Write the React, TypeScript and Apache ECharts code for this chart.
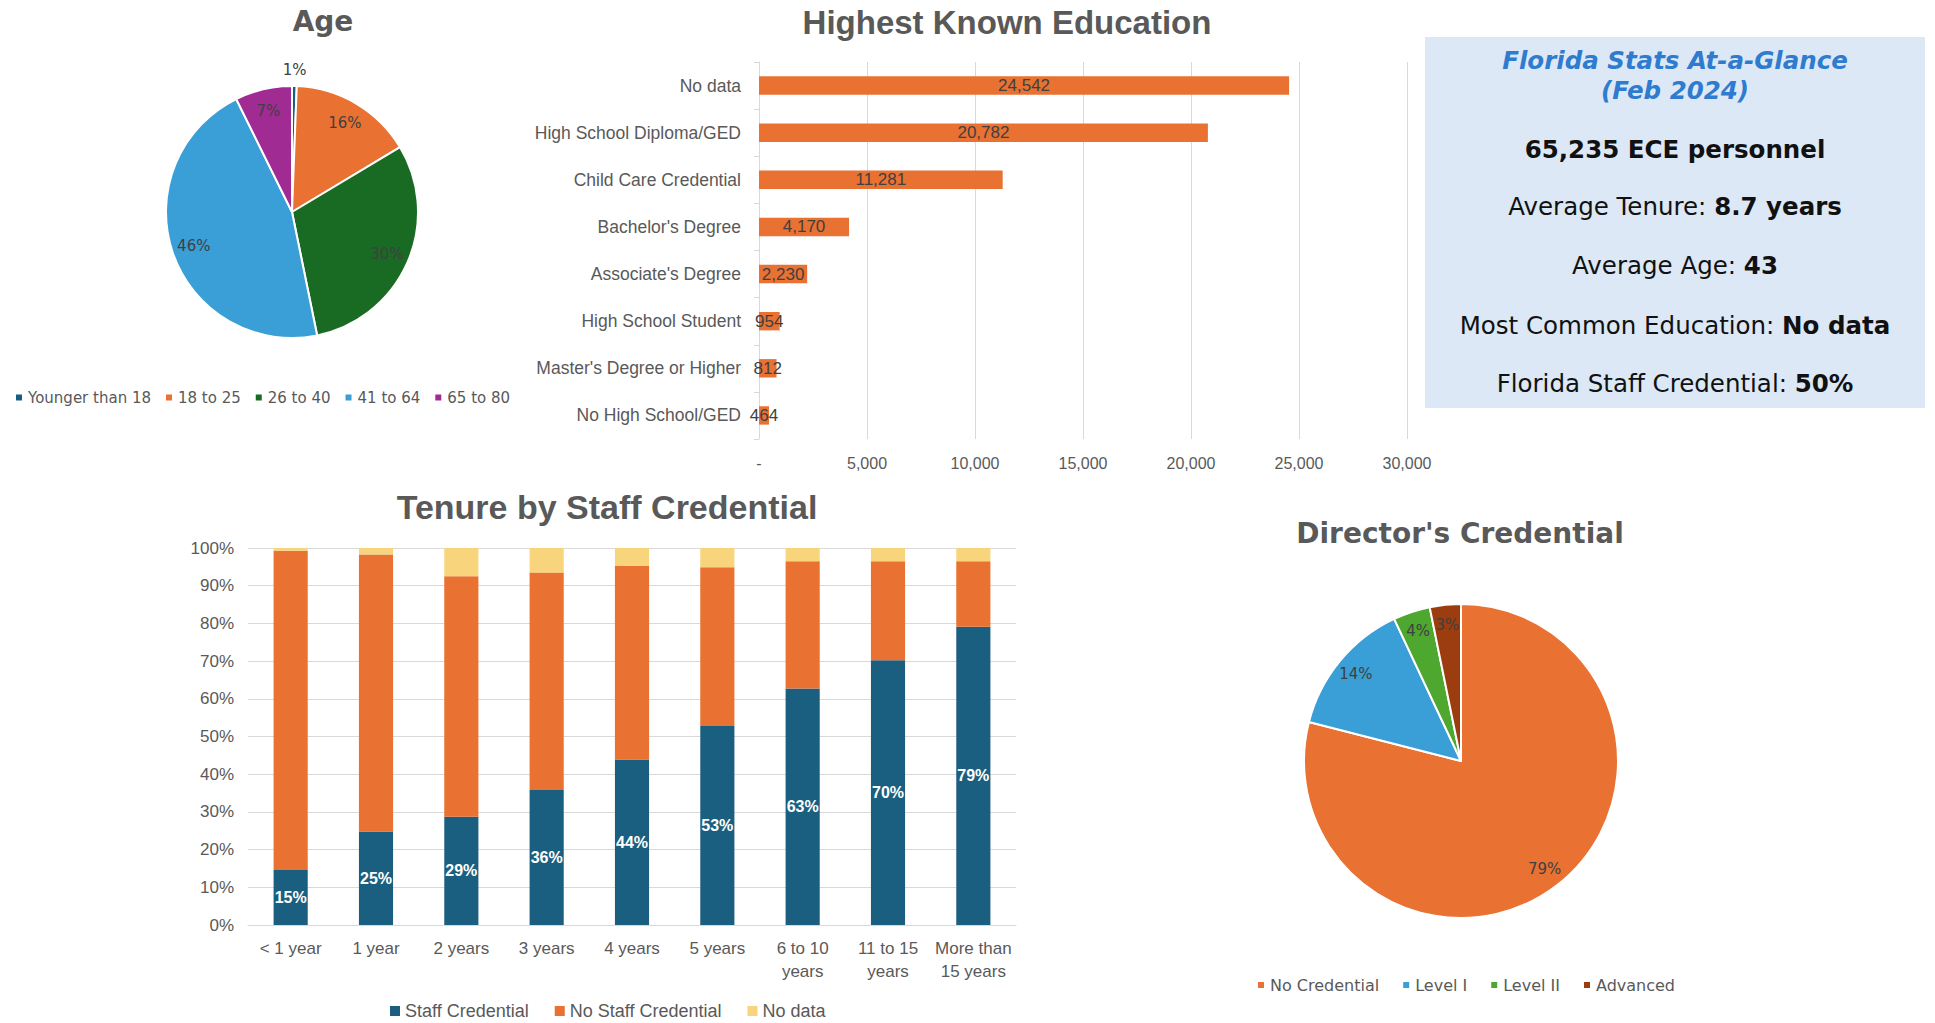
import React, { useEffect, useRef } from 'react';
import * as echarts from 'echarts';

// ---------- data ----------
const ageCategories = ['Younger than 18', '18 to 25', '26 to 40', '41 to 64', '65 to 80'];
const ageShares = [0.6, 15.8, 30.4, 45.9, 7.3];
const ageColors = ['#156082', '#E97132', '#196B24', '#3A9FD6', '#A02B93'];

const eduCategories = [
  'No data',
  'High School Diploma/GED',
  'Child Care Credential',
  "Bachelor's Degree",
  "Associate's Degree",
  'High School Student',
  "Master's Degree or Higher",
  'No High School/GED',
];
const eduCounts = [24542, 20782, 11281, 4170, 2230, 954, 812, 464];
const eduAxisMax = 30000;
const eduAxisStep = 5000;

const tenureCategories = [
  '< 1 year',
  '1 year',
  '2 years',
  '3 years',
  '4 years',
  '5 years',
  '6 to 10\nyears',
  '11 to 15\nyears',
  'More than\n15 years',
];
const tenureSeriesNames = ['Staff Credential', 'No Staff Credential', 'No data'];
const staffCredential = [14.6, 24.8, 28.7, 35.8, 43.9, 52.8, 62.7, 70.2, 79.1];
const noStaffCredential = [84.7, 73.5, 63.8, 57.7, 51.3, 42.1, 33.8, 26.3, 17.4];
const tenureNoData = [0.7, 1.7, 7.5, 6.5, 4.8, 5.1, 3.5, 3.5, 3.5];
const tenureColors = ['#1B5F80', '#E97132', '#F8D47C'];

const directorCategories = ['No Credential', 'Level I', 'Level II', 'Advanced'];
const directorShares = [79.0, 14.0, 3.8, 3.2];
const directorColors = ['#E97132', '#3A9FD6', '#4EA72E', '#9B3D0E'];

const titles = ['Age', 'Highest Known Education', 'Tenure by Staff Credential', "Director's Credential"];
const statsHeading = ['Florida Stats At-a-Glance', '(Feb 2024)'];
const statsLines: [string, string][] = [
  ['', '65,235 ECE personnel'],
  ['Average Tenure: ', '8.7 years'],
  ['Average Age: ', '43'],
  ['Most Common Education: ', 'No data'],
  ['Florida Staff Credential: ', '50%'],
];

const SANS = '"Liberation Sans", Arial, sans-serif';
const VERD = '"DejaVu Sans", Verdana, sans-serif';
const GREY = '#595959';
const DARK = '#404040';
const GRID = '#D9D9D9';

const pctLabel = (p: any) => Math.round(p.percent) + '%';

export default function App() {
  const ref = useRef<HTMLDivElement>(null);

  useEffect(() => {
    document.body.style.margin = '0';
    if (!ref.current) return;
    const chart = echarts.init(ref.current, undefined, { renderer: 'svg' });

    const ageCenter = [292, 212];
    const ageR = 126;
    const dirCenter = [1461, 761];
    const dirR = 157;

    const statsTexts: any[] = [];
    const statsY = [149, 206, 265, 325, 383];
    statsLines.forEach((l, i) => {
      statsTexts.push({
        type: 'text',
        x: 1675,
        y: statsY[i],
        style: {
          text: (l[0] ? '{n|' + l[0] + '}' : '') + '{b|' + l[1] + '}',
          align: 'center',
          verticalAlign: 'middle',
          rich: {
            n: { fontFamily: VERD, fontSize: 24.5, fill: '#111111' },
            b: { fontFamily: VERD, fontSize: 24.5, fontWeight: 'bold', fill: '#111111' },
          },
        },
      });
    });

    const titleSpecs = [
      { x: 323, y: 21, font: VERD, size: 28 },
      { x: 1007, y: 22, font: SANS, size: 33 },
      { x: 607, y: 507, font: SANS, size: 34 },
      { x: 1460, y: 533, font: VERD, size: 28 },
    ];

    const option: any = {
      animation: false,
      backgroundColor: '#ffffff',
      textStyle: { fontFamily: SANS },
      graphic: [
        ...titles.map((t, i) => ({
          type: 'text',
          x: titleSpecs[i].x,
          y: titleSpecs[i].y,
          style: {
            text: t,
            fontFamily: titleSpecs[i].font,
            fontSize: titleSpecs[i].size,
            fontWeight: 'bold',
            fill: GREY,
            align: 'center',
            verticalAlign: 'middle',
          },
        })),
        {
          type: 'rect',
          shape: { x: 1425, y: 37, width: 500, height: 371 },
          style: { fill: '#DCE8F5' },
          z: -1,
        },
        ...statsHeading.map((t, i) => ({
          type: 'text',
          x: 1675,
          y: 60 + i * 30,
          style: {
            text: t,
            fontFamily: VERD,
            fontSize: 24.5,
            fontWeight: 'bold',
            fontStyle: 'italic',
            fill: '#2E7BCF',
            align: 'center',
            verticalAlign: 'middle',
          },
        })),
        ...statsTexts,
      ],
      legend: [
        {
          data: ageCategories,
          left: 14,
          top: 390,
          padding: 0,
          icon: 'rect',
          itemWidth: 8,
          itemHeight: 8,
          itemGap: 13,
          textStyle: { fontFamily: VERD, fontSize: 15, color: GREY },
          selectedMode: false,
        },
        {
          data: tenureSeriesNames,
          left: 390,
          top: 1002,
          padding: 0,
          icon: 'rect',
          itemWidth: 10,
          itemHeight: 10,
          itemGap: 26,
          textStyle: { fontFamily: SANS, fontSize: 18, color: GREY },
          selectedMode: false,
        },
        {
          data: directorCategories,
          left: 1256,
          top: 977,
          padding: 0,
          icon: 'rect',
          itemWidth: 8,
          itemHeight: 8,
          itemGap: 22,
          textStyle: { fontFamily: VERD, fontSize: 16, color: GREY },
          selectedMode: false,
        },
      ],
      grid: [
        { left: 759, top: 62, width: 648, height: 377, containLabel: false, outerBoundsMode: 'none' },
        { left: 248, top: 548, width: 768, height: 377, containLabel: false, outerBoundsMode: 'none' },
      ],
      xAxis: [
        {
          type: 'value',
          gridIndex: 0,
          min: 0,
          max: eduAxisMax,
          interval: eduAxisStep,
          axisLine: { show: false },
          axisTick: { show: false },
          splitLine: { show: true, lineStyle: { color: GRID, width: 1 } },
          axisLabel: {
            color: GREY,
            fontSize: 16,
            margin: 16,
            formatter: (v: number) => (v === 0 ? '-' : v.toLocaleString('en-US')),
          },
        },
        {
          type: 'category',
          gridIndex: 1,
          data: tenureCategories,
          axisLine: { show: true, lineStyle: { color: GRID } },
          axisTick: { show: false },
          axisLabel: { color: GREY, fontSize: 17, lineHeight: 23, margin: 12, interval: 0 },
        },
      ],
      yAxis: [
        {
          type: 'category',
          gridIndex: 0,
          data: eduCategories,
          inverse: true,
          axisLine: { show: true, lineStyle: { color: GRID } },
          axisTick: { show: true, length: 5, lineStyle: { color: GRID } },
          axisLabel: { color: GREY, fontSize: 17.5, margin: 18, interval: 0 },
        },
        {
          type: 'value',
          gridIndex: 1,
          min: 0,
          max: 100,
          interval: 10,
          axisLine: { show: false },
          axisTick: { show: false },
          splitLine: { show: true, lineStyle: { color: GRID } },
          axisLabel: { color: GREY, fontSize: 17, margin: 14, formatter: '{value}%' },
        },
      ],
      series: [
        // Age pie (visible slices)
        {
          type: 'pie',
          name: 'Age',
          center: ageCenter,
          radius: [0, ageR],
          startAngle: 90,
          clockwise: true,
          silent: true,
          avoidLabelOverlap: false,
          itemStyle: { borderColor: '#ffffff', borderWidth: 2 },
          label: { show: false },
          labelLine: { show: false },
          data: ageCategories.map((n, i) => ({ name: n, value: ageShares[i], itemStyle: { color: ageColors[i] } })),
        },
        // Age pie labels ring
        {
          type: 'pie',
          name: 'AgeLabels',
          center: ageCenter,
          radius: [ageR * 0.6, ageR],
          startAngle: 90,
          clockwise: true,
          silent: true,
          avoidLabelOverlap: false,
          itemStyle: { color: 'rgba(0,0,0,0)', borderWidth: 0 },
          label: { show: true, position: 'inside', formatter: pctLabel, color: DARK, fontSize: 15, fontFamily: VERD },
          labelLine: { show: false },
          labelLayout: (p: any) => (p.dataIndex === 0 ? { align: 'center', dx: -5 } : {}),
          data: ageCategories.map((n, i) =>
            i === 0
              ? {
                  name: n,
                  value: ageShares[i],
                  label: { position: 'outside' },
                  labelLine: { show: false, length: 16, length2: 0 },
                }
              : { name: n, value: ageShares[i] },
          ),
        },
        // Education bars
        {
          type: 'bar',
          name: 'Personnel',
          xAxisIndex: 0,
          yAxisIndex: 0,
          data: eduCounts,
          barWidth: '39%',
          itemStyle: { color: '#E97132' },
          label: {
            show: true,
            position: 'inside',
            color: DARK,
            fontSize: 17,
            formatter: (p: any) => Number(p.value).toLocaleString('en-US'),
          },
        },
        // Tenure stacked bars
        {
          type: 'bar',
          name: tenureSeriesNames[0],
          xAxisIndex: 1,
          yAxisIndex: 1,
          stack: 'tenure',
          barWidth: '40%',
          data: staffCredential,
          itemStyle: { color: tenureColors[0] },
          label: {
            show: true,
            position: 'inside',
            color: '#ffffff',
            fontSize: 16,
            fontWeight: 'bold',
            formatter: (p: any) => Math.round(p.value) + '%',
          },
        },
        {
          type: 'bar',
          name: tenureSeriesNames[1],
          xAxisIndex: 1,
          yAxisIndex: 1,
          stack: 'tenure',
          barWidth: '40%',
          data: noStaffCredential,
          itemStyle: { color: tenureColors[1] },
        },
        {
          type: 'bar',
          name: tenureSeriesNames[2],
          xAxisIndex: 1,
          yAxisIndex: 1,
          stack: 'tenure',
          barWidth: '40%',
          data: tenureNoData,
          itemStyle: { color: tenureColors[2] },
        },
        // Director pie
        {
          type: 'pie',
          name: 'Director',
          center: dirCenter,
          radius: [0, dirR],
          startAngle: 90,
          clockwise: true,
          silent: true,
          avoidLabelOverlap: false,
          itemStyle: { borderColor: '#ffffff', borderWidth: 2 },
          label: { show: false },
          labelLine: { show: false },
          data: directorCategories.map((n, i) => ({
            name: n,
            value: directorShares[i],
            itemStyle: { color: directorColors[i] },
          })),
        },
        {
          type: 'pie',
          name: 'DirectorLabels',
          center: dirCenter,
          radius: [dirR * 0.7, dirR],
          startAngle: 90,
          clockwise: true,
          silent: true,
          avoidLabelOverlap: false,
          itemStyle: { color: 'rgba(0,0,0,0)', borderWidth: 0 },
          label: { show: true, position: 'inside', formatter: pctLabel, color: DARK, fontSize: 15, fontFamily: VERD },
          labelLine: { show: false },
          data: directorCategories.map((n, i) => ({ name: n, value: directorShares[i] })),
        },
      ],
    };

    chart.setOption(option);
    return () => {
      chart.dispose();
    };
  }, []);

  return <div ref={ref} style={{ width: 1935, height: 1023, background: '#ffffff' }} />;
}
